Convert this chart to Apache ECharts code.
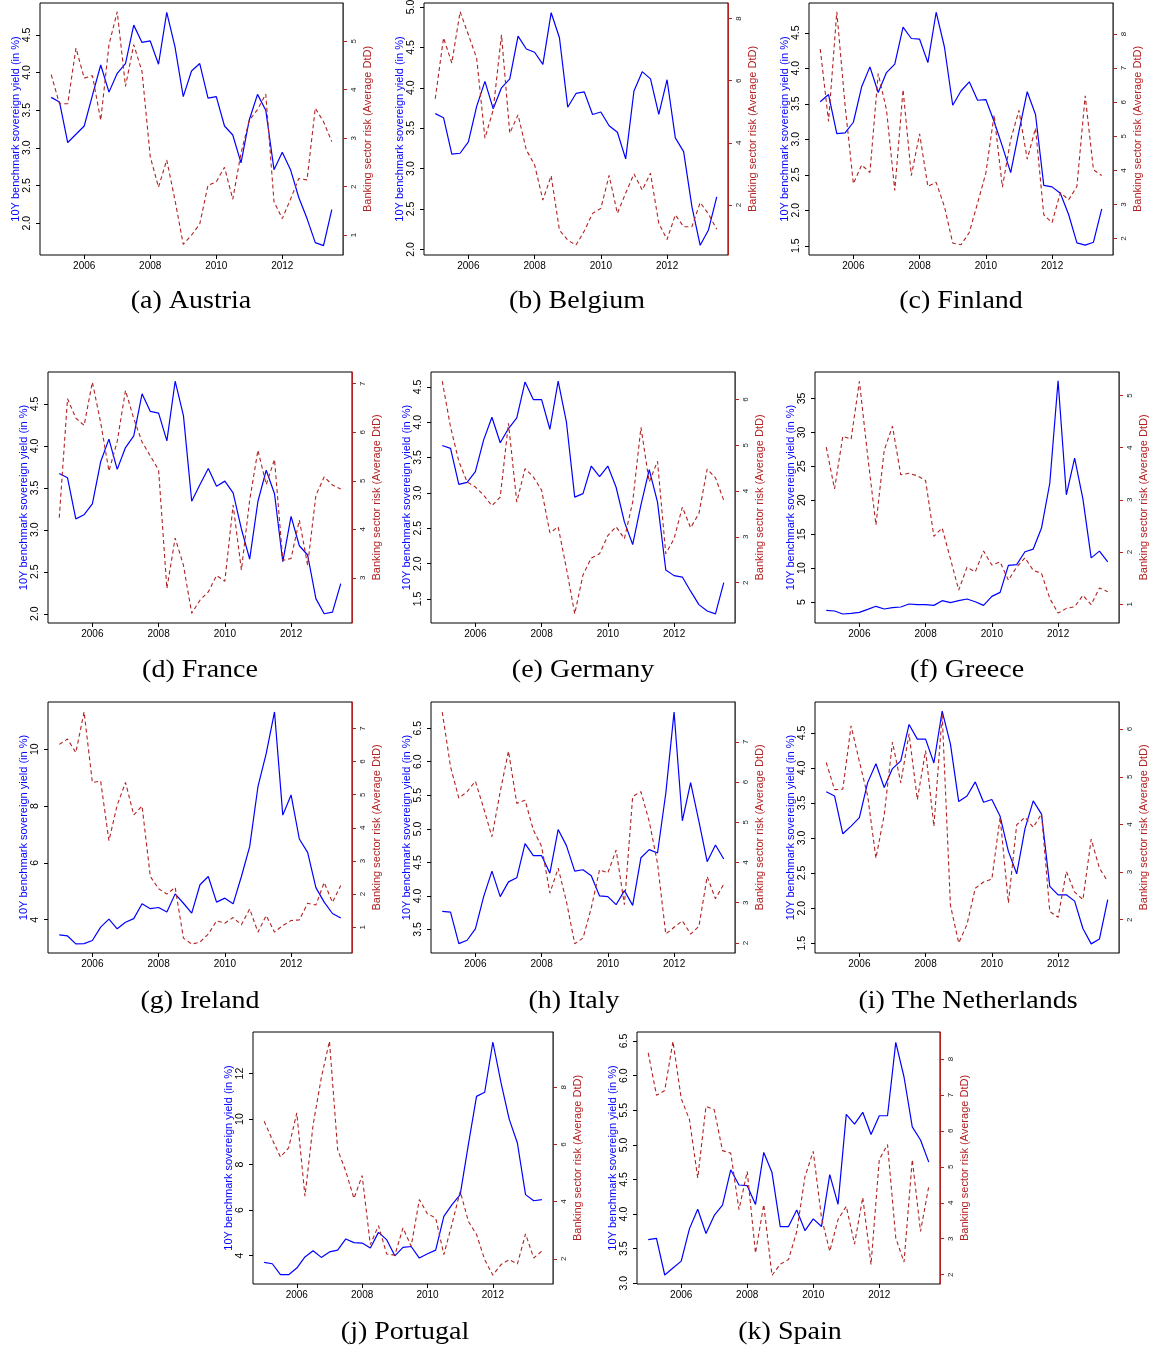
<!DOCTYPE html>
<html><head><meta charset="utf-8">
<script src="https://cdn.jsdelivr.net/npm/echarts@6/dist/echarts.min.js"></script>
<style>html,body{margin:0;padding:0;background:#fff}#c{width:1153px;height:1353px}</style>
</head><body><div id="c"></div><script>
// ---- data ----
const quarters = [2005,2005.25,2005.5,2005.75,2006,2006.25,2006.5,2006.75,2007,2007.25,2007.5,2007.75,2008,2008.25,2008.5,2008.75,2009,2009.25,2009.5,2009.75,2010,2010.25,2010.5,2010.75,2011,2011.25,2011.5,2011.75,2012,2012.25,2012.5,2012.75,2013,2013.25,2013.5];
const xTicks = [2006, 2008, 2010, 2012];

const austriaYield = [3.67,3.61,3.07,3.18,3.29,3.70,4.10,3.74,3.99,4.12,4.63,4.40,4.42,4.11,4.80,4.34,3.68,4.02,4.12,3.66,3.68,3.29,3.17,2.80,3.37,3.71,3.50,2.71,2.94,2.71,2.34,2.06,1.74,1.70,2.18];
const austriaRisk = [4.31,3.71,3.71,4.86,4.24,4.29,3.37,4.93,5.61,4.07,4.93,4.38,2.62,1.99,2.55,1.72,0.81,1.00,1.23,2.03,2.10,2.40,1.74,2.69,3.37,3.59,3.91,1.69,1.34,1.74,2.17,2.14,3.62,3.34,2.93];
const belgiumYield = [3.68,3.63,3.18,3.19,3.33,3.77,4.08,3.74,4.00,4.11,4.64,4.48,4.44,4.29,4.93,4.62,3.76,3.93,3.95,3.67,3.70,3.53,3.45,3.12,3.96,4.20,4.11,3.67,4.10,3.38,3.21,2.53,2.05,2.24,2.65];
const belgiumRisk = [5.42,7.38,6.57,8.22,7.48,6.73,4.15,5.06,7.48,4.31,4.90,3.77,3.29,2.16,2.94,1.19,0.87,0.71,1.16,1.73,1.89,2.95,1.73,2.38,3.00,2.48,3.02,1.41,0.89,1.68,1.30,1.30,2.08,1.71,1.22];
const finlandYield = [3.53,3.63,3.08,3.09,3.24,3.74,4.02,3.66,3.94,4.06,4.58,4.42,4.41,4.08,4.79,4.30,3.48,3.68,3.81,3.55,3.56,3.25,2.90,2.53,3.11,3.67,3.35,2.35,2.33,2.24,1.94,1.54,1.51,1.55,2.02];
const finlandRisk = [7.56,5.44,8.65,5.90,3.61,4.16,3.94,6.84,5.78,3.41,6.37,3.85,5.07,3.53,3.65,2.94,1.87,1.82,2.18,3.04,3.92,5.63,3.51,4.90,5.76,4.33,5.24,2.70,2.47,3.35,3.14,3.53,6.19,4.02,3.85];
const franceYield = [3.67,3.62,3.13,3.18,3.31,3.81,4.08,3.72,3.98,4.12,4.62,4.41,4.39,4.06,4.77,4.36,3.34,3.54,3.73,3.52,3.58,3.44,3.01,2.65,3.34,3.71,3.43,2.62,3.16,2.81,2.70,2.18,2.00,2.02,2.36];
const franceRisk = [4.24,6.69,6.29,6.14,7.03,6.20,5.20,5.81,6.86,6.28,5.80,5.51,5.22,2.78,3.82,3.26,2.27,2.54,2.71,3.05,2.93,4.50,3.16,4.60,5.63,4.92,5.44,3.36,3.40,4.19,3.26,4.70,5.08,4.91,4.83];
const germanyYield = [3.67,3.63,3.12,3.15,3.30,3.75,4.07,3.71,3.91,4.06,4.57,4.32,4.32,3.90,4.58,4.00,2.94,2.99,3.38,3.23,3.38,3.08,2.59,2.27,2.83,3.33,2.87,1.91,1.83,1.81,1.61,1.42,1.33,1.29,1.73];
const germanyRisk = [6.40,5.40,4.65,4.20,4.09,3.91,3.68,3.87,5.48,3.76,4.49,4.31,4.02,3.09,3.22,2.31,1.32,2.17,2.54,2.63,3.03,3.22,2.96,3.76,5.39,4.20,4.65,2.63,2.96,3.65,3.20,3.51,4.48,4.29,3.80];
const greeceYield = [3.77,3.67,3.23,3.32,3.47,3.91,4.36,3.96,4.16,4.26,4.70,4.60,4.60,4.50,5.19,4.90,5.19,5.44,5.04,4.50,5.83,6.42,10.4,10.5,12.4,12.8,15.9,22.5,37.6,20.8,26.2,20.2,11.5,12.5,10.9];
const greeceRisk = [4.01,3.21,4.22,4.16,5.27,3.85,2.52,3.95,4.41,3.48,3.51,3.46,3.37,2.30,2.46,1.87,1.27,1.71,1.62,2.02,1.75,1.81,1.46,1.71,1.89,1.65,1.59,1.11,0.83,0.92,0.95,1.17,0.99,1.31,1.24];
const irelandYield = [3.47,3.43,3.15,3.16,3.27,3.74,4.02,3.68,3.91,4.04,4.56,4.39,4.43,4.27,4.91,4.58,4.23,5.23,5.52,4.62,4.76,4.56,5.52,6.57,8.68,9.85,11.31,7.68,8.39,6.84,6.37,5.13,4.62,4.22,4.06];
const irelandRisk = [6.52,6.68,6.27,7.50,5.37,5.41,3.61,4.69,5.37,4.39,4.66,2.53,2.16,2.00,2.20,0.67,0.49,0.55,0.79,1.19,1.12,1.29,1.07,1.55,0.85,1.35,0.85,1.05,1.20,1.22,1.72,1.67,2.35,1.75,2.26];
const italyYield = [3.77,3.76,3.29,3.34,3.51,3.99,4.37,3.99,4.21,4.27,4.78,4.60,4.60,4.34,4.99,4.75,4.37,4.39,4.30,4.00,3.99,3.87,4.08,3.86,4.57,4.69,4.64,5.53,6.74,5.12,5.69,5.11,4.51,4.76,4.55];
const italyRisk = [7.74,6.38,5.60,5.76,6.02,5.35,4.64,5.76,6.77,5.47,5.55,4.81,4.40,3.24,3.86,3.03,1.98,2.12,2.87,3.82,3.74,4.31,2.95,5.64,5.76,5.02,3.98,2.22,2.39,2.55,2.22,2.41,3.65,3.10,3.46];
const netherlandsYield = [3.66,3.60,3.06,3.17,3.29,3.79,4.06,3.72,3.99,4.10,4.62,4.41,4.41,4.07,4.81,4.34,3.52,3.60,3.80,3.51,3.55,3.31,2.81,2.49,3.13,3.53,3.34,2.31,2.19,2.19,2.10,1.71,1.49,1.56,2.12];
const netherlandsRisk = [5.30,4.73,4.74,6.07,5.32,4.60,3.29,4.20,5.73,4.87,5.90,4.52,5.55,3.96,6.31,2.30,1.51,1.90,2.66,2.79,2.85,4.15,2.35,3.99,4.15,3.94,4.22,2.17,2.05,3.01,2.58,2.42,3.69,3.08,2.80];
const portugalYield = [3.70,3.64,3.16,3.16,3.45,3.94,4.21,3.92,4.16,4.24,4.73,4.57,4.55,4.33,5.02,4.70,3.99,4.36,4.40,3.89,4.08,4.24,5.72,6.24,6.68,8.88,11.00,11.18,13.39,11.59,10.00,8.95,6.68,6.41,6.46];
const portugalRisk = [6.81,6.17,5.56,5.88,7.10,4.19,6.69,8.33,9.61,5.82,5.06,4.11,4.91,2.50,3.16,2.17,2.13,3.08,2.44,4.07,3.57,3.43,2.15,3.22,4.36,3.31,2.85,1.97,1.43,1.80,1.97,1.82,2.87,2.03,2.27];
const spainYield = [3.63,3.65,3.12,3.22,3.32,3.79,4.07,3.72,3.98,4.13,4.64,4.42,4.41,4.14,4.89,4.60,3.82,3.82,4.06,3.76,3.93,3.82,4.57,4.14,5.44,5.30,5.47,5.15,5.42,5.42,6.48,5.98,5.26,5.07,4.75];
const spainRisk = [8.17,6.99,7.12,8.49,6.90,6.31,4.69,6.68,6.59,5.45,5.38,3.81,4.87,2.60,3.95,1.98,2.29,2.42,3.20,4.73,5.43,3.58,2.65,3.53,3.90,2.85,4.15,2.28,5.20,5.62,3.02,2.35,5.20,3.20,4.46];

// tick labels
const ticks20to45 = ['2.0','2.5','3.0','3.5','4.0','4.5'];
const ticks20to50 = ['2.0','2.5','3.0','3.5','4.0','4.5','5.0'];
const ticks15to45 = ['1.5','2.0','2.5','3.0','3.5','4.0','4.5'];
const ticks35to65 = ['3.5','4.0','4.5','5.0','5.5','6.0','6.5'];
const ticks30to65 = ['3.0','3.5','4.0','4.5','5.0','5.5','6.0','6.5'];
const ticksGreece = ['5','10','15','20','25','30','35'];
const ticksIreland = ['4','6','8','10'];
const ticksPortugal = ['4','6','8','10','12'];
const rTicks1to5 = ['1','2','3','4','5'];
const rTicks2to8e = ['2','4','6','8'];
const rTicks2to8 = ['2','3','4','5','6','7','8'];
const rTicks3to7 = ['3','4','5','6','7'];
const rTicks2to6 = ['2','3','4','5','6'];
const rTicks1to7 = ['1','2','3','4','5','6','7'];
const rTicks2to7 = ['2','3','4','5','6','7'];

const captions = ['(a) Austria','(b) Belgium','(c) Finland','(d) France','(e) Germany','(f) Greece','(g) Ireland','(h) Italy','(i) The Netherlands','(j) Portugal','(k) Spain'];

// ---- panel setup ----
const panels = [
 {y:austriaYield, r:austriaRisk, yr:[1.576,4.924], rr:[0.59,5.79], yt:ticks20to45, rt:rTicks1to5},
 {y:belgiumYield, r:belgiumRisk, yr:[1.93,5.05], rr:[0.39,8.5], yt:ticks20to50, rt:rTicks2to8e},
 {y:finlandYield, r:finlandRisk, yr:[1.37,4.92], rr:[1.52,8.91], yt:ticks15to45, rt:rTicks2to8},
 {y:franceYield, r:franceRisk, yr:[1.89,4.88], rr:[2.07,7.24], yt:ticks20to45, rt:rTicks3to7},
 {y:germanyYield, r:germanyRisk, yr:[1.16,4.71], rr:[1.12,6.60], yt:ticks15to45, rt:rTicks2to6},
 {y:greeceYield, r:greeceRisk, yr:[1.9,38.9], rr:[0.64,5.45], yt:ticksGreece, rt:rTicks1to5},
 {y:irelandYield, r:irelandRisk, yr:[2.83,11.66], rr:[0.22,7.80], yt:ticksIreland, rt:rTicks1to7},
 {y:italyYield, r:italyRisk, yr:[3.15,6.89], rr:[1.75,7.99], yt:ticks35to65, rt:rTicks2to7},
 {y:netherlandsYield, r:netherlandsRisk, yr:[1.36,4.94], rr:[1.30,6.57], yt:ticks15to45, rt:rTicks2to6},
 {y:portugalYield, r:portugalRisk, yr:[2.75,13.83], rr:[1.12,9.93], yt:ticksPortugal, rt:rTicks2to8e},
 {y:spainYield, r:spainRisk, yr:[2.99,6.63], rr:[1.74,8.75], yt:ticks30to65, rt:rTicks2to8}
];
const boxes = [
 {l:40,t:3,w:303,h:252,cx:191,cy:301},
 {l:424,t:3,w:304,h:252,cx:577,cy:301},
 {l:809,t:3,w:304,h:252,cx:961,cy:301},
 {l:48,t:372,w:304,h:251,cx:200,cy:670},
 {l:431,t:372,w:304,h:251,cx:583,cy:670},
 {l:815,t:372,w:304,h:251,cx:967,cy:670},
 {l:48,t:702,w:304,h:251,cx:200,cy:1001},
 {l:431,t:702,w:304,h:251,cx:574,cy:1001},
 {l:815,t:702,w:304,h:251,cx:968,cy:1001},
 {l:253,t:1032,w:300,h:252,cx:405,cy:1332},
 {l:637,t:1032,w:303,h:252,cx:790,cy:1332}
];

const BLUE = '#0000FF', RED = '#B22222', FONT = '"Liberation Sans", Arial, sans-serif';
const grid = [], xAxis = [], yAxis = [], series = [], graphic = [];

panels.forEach((p, i) => {
  const b = boxes[i];
  grid.push({left:b.l, top:b.t, width:b.w, height:b.h, show:true, borderColor:'#000', borderWidth:1, backgroundColor:'transparent', containLabel:false, outerBoundsMode:'none'});
  xAxis.push({type:'value', gridIndex:i, min:2004.66, max:2013.84,
    axisLine:{show:false}, splitLine:{show:false},
    axisTick:{show:true, inside:false, length:4, customValues:xTicks, lineStyle:{color:'#000'}},
    axisLabel:{customValues:xTicks, fontSize:10, color:'#000', fontFamily:FONT, margin:6, formatter:v=>String(Math.round(v))}
  });
  const yNums = p.yt.map(Number), rNums = p.rt.map(Number);
  yAxis.push({type:'value', gridIndex:i, position:'left', min:p.yr[0], max:p.yr[1],
    name:'10Y benchmark sovereign yield (in %)', nameLocation:'middle', nameGap:18, nameRotate:90,
    nameTextStyle:{color:BLUE, fontSize:11, fontFamily:FONT},
    axisLine:{show:false}, splitLine:{show:false},
    axisTick:{show:true, length:4, customValues:yNums, lineStyle:{color:'#000'}},
    axisLabel:{customValues:yNums, rotate:90, fontSize:10.5, color:'#000', fontFamily:FONT, margin:7,
      formatter:v=>{const k=yNums.findIndex(n=>Math.abs(n-v)<1e-9); return k>=0?p.yt[k]:'';}}
  });
  yAxis.push({type:'value', gridIndex:i, position:'right', min:p.rr[0], max:p.rr[1],
    name:'Banking sector risk (Average DtD)', nameLocation:'middle', nameGap:19, nameRotate:90,
    nameTextStyle:{color:RED, fontSize:11, fontFamily:FONT},
    axisLine:{show:true, lineStyle:{color:RED, width:1}}, splitLine:{show:false},
    axisTick:{show:true, length:4, customValues:rNums, lineStyle:{color:RED}},
    axisLabel:{customValues:rNums, rotate:90, fontSize:8, color:'#222', fontFamily:FONT, margin:7,
      formatter:v=>{const k=rNums.findIndex(n=>Math.abs(n-v)<1e-9); return k>=0?p.rt[k]:'';}}
  });
  series.push({type:'line', xAxisIndex:i, yAxisIndex:2*i, data:quarters.map((q,k)=>[q,p.y[k]]),
    showSymbol:false, symbol:'none', lineStyle:{color:BLUE, width:1.2}, itemStyle:{color:BLUE}, z:2});
  series.push({type:'line', xAxisIndex:i, yAxisIndex:2*i+1, data:quarters.map((q,k)=>[q,p.r[k]]),
    showSymbol:false, symbol:'none', lineStyle:{color:RED, width:1.1, type:[4,3]}, itemStyle:{color:RED}, z:3});
  graphic.push({type:'text', x:b.cx, y:b.cy, scaleX:1.12, style:{text:captions[i], fill:'#000', font:'25px "Liberation Serif", serif', align:'center', verticalAlign:'middle'}});
});

const chart = echarts.init(document.getElementById('c'), null, {renderer:'canvas'});
chart.setOption({animation:false, backgroundColor:'#fff', grid, xAxis, yAxis, series, graphic});
</script></body></html>
